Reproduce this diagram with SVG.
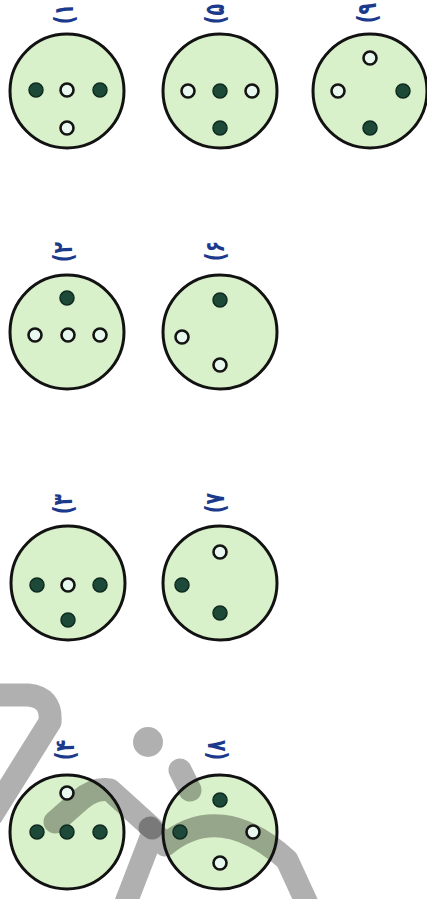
<svg xmlns="http://www.w3.org/2000/svg" width="427" height="899" viewBox="0 0 427 899">
<style>
.bg{fill:#d9f1ca}
.ring{fill:none;stroke:#121212;stroke-width:3}
.f{fill:#1d4a38;stroke:#0f2a20;stroke-width:1.5}
.o{fill:#e8f8ee;stroke:#141414;stroke-width:2.6}
.lbl{font-family:"DejaVu Sans","Noto Sans",sans-serif;font-size:19px;font-weight:bold;fill:#1c3a8c;text-anchor:middle;dominant-baseline:central}
.wm{fill:none;stroke:#000;stroke-opacity:0.31;stroke-width:23;stroke-linecap:round;stroke-linejoin:round}
</style>
<rect width="427" height="899" fill="#ffffff"/>
<g id="fills">
<circle class="bg" cx="67" cy="91" r="57"/>
<circle class="bg" cx="220" cy="91" r="57"/>
<circle class="bg" cx="370" cy="91" r="57"/>
<circle class="bg" cx="67" cy="332" r="57"/>
<circle class="bg" cx="220" cy="332" r="57"/>
<circle class="bg" cx="68" cy="583" r="57"/>
<circle class="bg" cx="220" cy="583" r="57"/>
<circle class="bg" cx="67" cy="832" r="57"/>
<circle class="bg" cx="220" cy="832" r="57"/>
</g>
<g id="watermark">
<path class="wm" d="M -15 695 L 28 695 Q 52 697 50 722 L -8 815"/>
<circle cx="148" cy="742" r="15" fill="#000" fill-opacity="0.31"/>
<path class="wm" d="M 180 770 L 190 790"/>
<path class="wm" d="M 55 822 L 80 800 Q 95 787 110 790 L 152 828"/>
<path class="wm" d="M 310 910 L 287 860 Q 220 800 165 845 L 150 828 M 152 835 L 125 905"/>
</g>
<g id="connectors"></g>
<g id="n1">
<text class="lbl" transform="translate(64,14) rotate(-90) scale(1,1.4)">(۱</text>
<circle class="ring" cx="67" cy="91" r="57"/>
<circle class="f" cx="36" cy="90" r="7"/>
<circle class="o" cx="67" cy="90" r="6.5"/>
<circle class="f" cx="100" cy="90" r="7"/>
<circle class="o" cx="67" cy="128" r="6.5"/>
</g>
<g id="n5">
<text class="lbl" transform="translate(215,14) rotate(-90) scale(1,1.4)">(۵</text>
<circle class="ring" cx="220" cy="91" r="57"/>
<circle class="o" cx="188" cy="91" r="6.5"/>
<circle class="f" cx="220" cy="91" r="7"/>
<circle class="o" cx="252" cy="91" r="6.5"/>
<circle class="f" cx="220" cy="128" r="7"/>
</g>
<g id="n9">
<text class="lbl" transform="translate(367,13) rotate(-90) scale(1,1.4)">(۹</text>
<circle class="ring" cx="370" cy="91" r="57"/>
<circle class="o" cx="370" cy="58" r="6.5"/>
<circle class="o" cx="338" cy="91" r="6.5"/>
<circle class="f" cx="403" cy="91" r="7"/>
<circle class="f" cx="370" cy="128" r="7"/>
</g>
<g id="n2">
<text class="lbl" transform="translate(63,252) rotate(-90) scale(1,1.4)">(۲</text>
<circle class="ring" cx="67" cy="332" r="57"/>
<circle class="f" cx="67" cy="298" r="7"/>
<circle class="o" cx="35" cy="335" r="6.5"/>
<circle class="o" cx="68" cy="335" r="6.5"/>
<circle class="o" cx="100" cy="335" r="6.5"/>
</g>
<g id="n6">
<text class="lbl" transform="translate(215,251) rotate(-90) scale(1,1.4)">(۶</text>
<circle class="ring" cx="220" cy="332" r="57"/>
<circle class="f" cx="220" cy="300" r="7"/>
<circle class="o" cx="182" cy="337" r="6.5"/>
<circle class="o" cx="220" cy="365" r="6.5"/>
</g>
<g id="n3">
<text class="lbl" transform="translate(63,504) rotate(-90) scale(1,1.4)">(۳</text>
<circle class="ring" cx="68" cy="583" r="57"/>
<circle class="f" cx="37" cy="585" r="7"/>
<circle class="o" cx="68" cy="585" r="6.5"/>
<circle class="f" cx="100" cy="585" r="7"/>
<circle class="f" cx="68" cy="620" r="7"/>
</g>
<g id="n7">
<text class="lbl" transform="translate(215,503) rotate(-90) scale(1,1.4)">(۷</text>
<circle class="ring" cx="220" cy="583" r="57"/>
<circle class="o" cx="220" cy="552" r="6.5"/>
<circle class="f" cx="182" cy="585" r="7"/>
<circle class="f" cx="220" cy="613" r="7"/>
</g>
<g id="n4">
<text class="lbl" transform="translate(65,750) rotate(-90) scale(1,1.4)">(۴</text>
<circle class="ring" cx="67" cy="832" r="57"/>
<circle class="o" cx="67" cy="793" r="6.5"/>
<circle class="f" cx="37" cy="832" r="7"/>
<circle class="f" cx="67" cy="832" r="7"/>
<circle class="f" cx="100" cy="832" r="7"/>
</g>
<g id="n8">
<text class="lbl" transform="translate(216,750) rotate(-90) scale(1,1.4)">(۸</text>
<circle class="ring" cx="220" cy="832" r="57"/>
<circle class="f" cx="220" cy="800" r="7"/>
<circle class="f" cx="180" cy="832" r="7"/>
<circle class="o" cx="253" cy="832" r="6.5"/>
<circle class="o" cx="220" cy="863" r="6.5"/>
</g>
</svg>
